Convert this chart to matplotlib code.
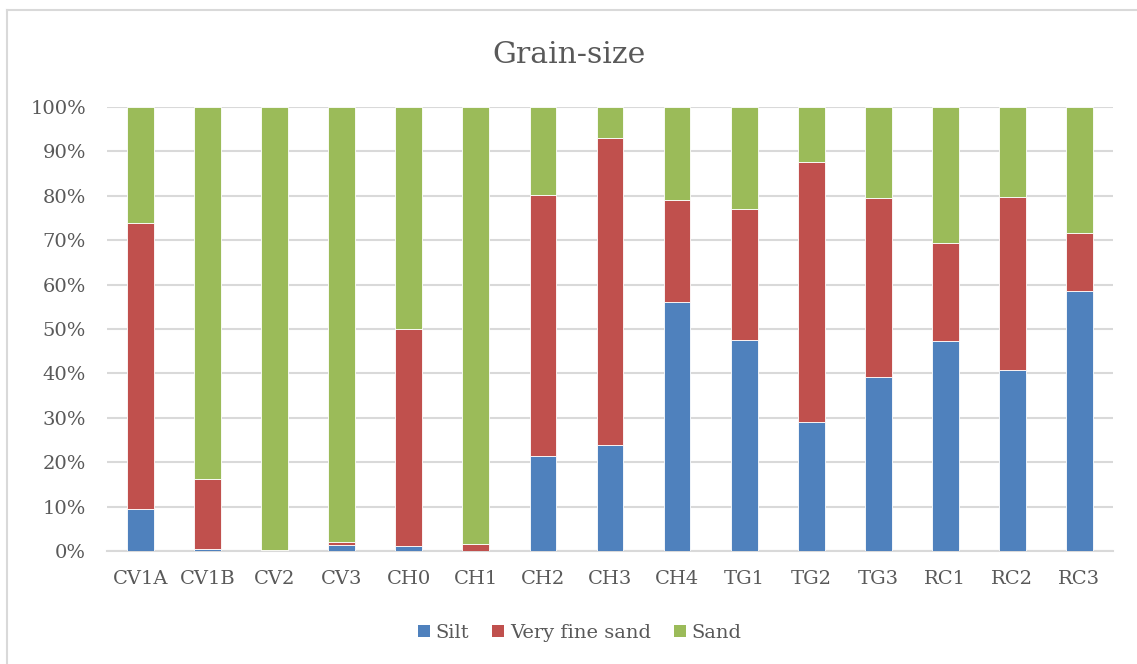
import matplotlib
matplotlib.use("Agg")
import matplotlib.pyplot as plt
import numpy as np
from matplotlib.lines import Line2D
from matplotlib.patches import Patch

# Grain-size fractions per sample (percent of total)
samples = ["CV1A", "CV1B", "CV2", "CV3", "CH0", "CH1", "CH2", "CH3",
           "CH4", "TG1", "TG2", "TG3", "RC1", "RC2", "RC3"]
silt = [9.5, 0.5, 0.0, 1.4, 1.1, 0.0, 21.4, 23.9, 56.0, 47.6, 29.1, 39.2, 47.3, 40.7, 58.5]
very_fine_sand = [64.4, 15.7, 0.3, 0.6, 48.9, 1.5, 58.8, 69.0, 23.1, 29.5, 58.4, 40.2, 22.0, 39.0, 13.1]
sand = [100 - a - b for a, b in zip(silt, very_fine_sand)]

series = [("Silt", silt, "#4F81BD"),
          ("Very fine sand", very_fine_sand, "#C0504D"),
          ("Sand", sand, "#9BBB59")]

TEXT = "#595959"
GRID = "#D9D9D9"
plt.rcParams["font.family"] = ["DejaVu Serif"]

fig = plt.figure(figsize=(11.37, 6.64), dpi=100)
ax = fig.add_axes([0.0941, 0.1702, 0.8848, 0.6687])

x = np.arange(len(samples))
bottom = np.zeros(len(samples))
for name, vals, color in series:
    vals = np.array(vals, dtype=float)
    ax.bar(x, vals, width=0.4, bottom=bottom, color=color,
           edgecolor="white", linewidth=0.6, label=name, zorder=3)
    bottom += vals

ax.set_xlim(-0.5, len(samples) - 0.5)
ax.set_ylim(0, 100)
ax.set_yticks(np.arange(0, 101, 10))
ax.set_yticklabels([f"{v}%" for v in range(0, 101, 10)])
ax.set_xticks(x)
ax.set_xticklabels(samples)
ax.yaxis.grid(True, color=GRID, linewidth=1.5, zorder=0)
ax.tick_params(axis="both", length=0, labelsize=14, colors=TEXT)
ax.tick_params(axis="y", pad=15)
ax.tick_params(axis="x", pad=14)
for side in ["top", "right", "left"]:
    ax.spines[side].set_visible(False)
ax.spines["bottom"].set_color(GRID)
ax.spines["bottom"].set_linewidth(1.5)

fig.text(0.5, 1 - 55 / 664, "Grain-size", ha="center", va="center",
         fontsize=21.5, color=TEXT)

handles = [Patch(facecolor=c, edgecolor="none", label=n) for n, _, c in series]
fig.legend(handles=handles, loc="center", bbox_to_anchor=(0.51, 1 - 633 / 664),
           ncol=3, frameon=False, fontsize=14, labelcolor=TEXT,
           handlelength=0.6, handleheight=0.6, handletextpad=0.3, columnspacing=1.2)

# chart area border
fig.add_artist(Line2D([7 / 1137, 7 / 1137], [0, 1 - 10 / 664], transform=fig.transFigure,
                      color=GRID, linewidth=1.5))
fig.add_artist(Line2D([7 / 1137, 1], [1 - 10 / 664, 1 - 10 / 664], transform=fig.transFigure,
                      color=GRID, linewidth=1.5))

fig.savefig("out.png", dpi=100, facecolor="white")
